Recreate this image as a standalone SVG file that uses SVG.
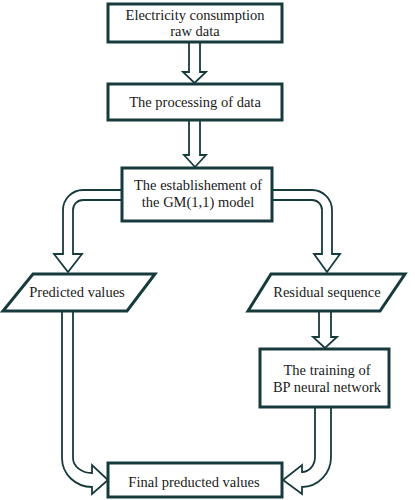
<svg xmlns="http://www.w3.org/2000/svg" width="415" height="500" viewBox="0 0 415 500">
<style>
.box{fill:#fff;stroke:#173a3c;stroke-width:3}
.arr{fill:#fff;stroke:#173a3c;stroke-width:1.8;stroke-linejoin:miter}
text{font-family:"Liberation Serif","Times New Roman",serif;font-size:14.5px;fill:#1a1a1a;text-anchor:middle}
</style>
<rect width="415" height="500" fill="#fff"/>
<g id="connectors">
<path class="arr" d="M189,42 V72 H183 L194.5,83 L206,72 H200 V42"/>
<path class="arr" d="M189,120 V155 H184 L195,167 L206,155 H200 V120"/>
<path class="arr" d="M122,190 H83 A20,20 0 0 0 63,210 V254 H54 L68,272 L82,254 H73 V210 A10,10 0 0 1 83,200 H122"/>
<path class="arr" d="M272,190 H312 A20,20 0 0 1 332,210 V254 H340 L327,272 L314,254 H322 V210 A10,10 0 0 0 312,200 H272"/>
<path class="arr" d="M319,311 V337 H313 L325,348 L337,337 H331 V311"/>
<path class="arr" d="M62,311 V458 A30,29 0 0 0 92,487 V494 L108,480 L92,465 V473 A19,15 0 0 1 73,458 V311"/>
<path class="arr" d="M315,407 V457 A13,15 0 0 1 302,472 V465 L283,480 L302,494 V487 A29,30 0 0 0 331,457 V407"/>
</g>
<g id="raw-data">
<rect class="box" x="108" y="4" width="174" height="38"/>
<text x="195" y="19.5">Electricity consumption</text>
<text x="195" y="35.5">raw data</text>
</g>
<g id="processing">
<rect class="box" x="108" y="84" width="174" height="36"/>
<text x="195" y="107">The processing of data</text>
</g>
<g id="gm-model">
<rect class="box" x="122" y="168" width="150" height="53"/>
<text x="198" y="190">The establishement of</text>
<text x="198" y="207">the GM(1,1) model</text>
</g>
<g id="predicted">
<polygon class="box" points="33,274 155,274 127,311 3,311"/>
<text x="77" y="297">Predicted values</text>
</g>
<g id="residual">
<polygon class="box" points="271,274 405,274 380,311 248,311"/>
<text x="327" y="297">Residual sequence</text>
</g>
<g id="bp-training">
<rect class="box" x="260" y="349" width="129" height="58"/>
<text x="327" y="375">The training of</text>
<text x="327" y="392">BP neural network</text>
</g>
<g id="final">
<rect class="box" x="108" y="463" width="174" height="34"/>
<text x="194" y="487">Final preducted values</text>
</g>
</svg>
